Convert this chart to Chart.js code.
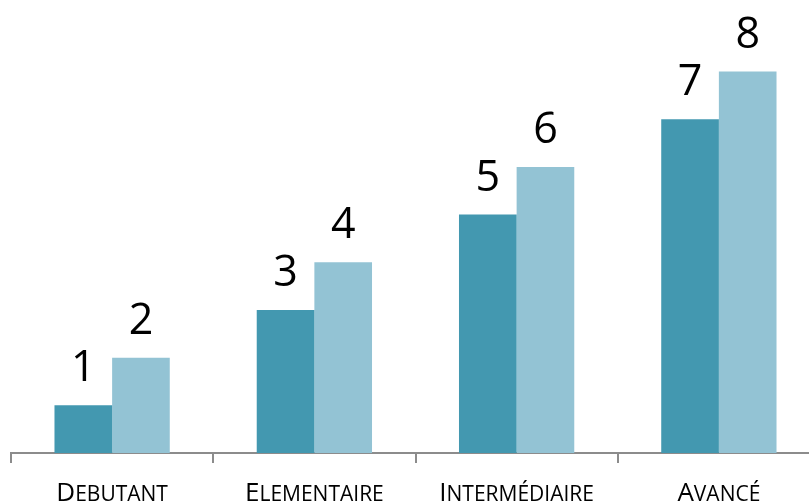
<!DOCTYPE html>
<html>
<head>
<meta charset="utf-8">
<script src="https://cdn.jsdelivr.net/npm/chart.js@4.4.1/dist/chart.umd.min.js"></script>
<style>
  html, body { margin: 0; padding: 0; background: #fff; overflow: hidden; }
  #wrap { width: 820px; height: 504px; }
</style>
</head>
<body>
<div id="wrap"><canvas id="chart"></canvas></div>
<script>
const levels = ["Debutant", "Elementaire", "Intermédiaire", "Avancé"];
const seriesA = [1, 3, 5, 7];
const seriesB = [2, 4, 6, 8];

const darkTeal = "rgb(67,152,176)";
const lightTeal = "rgb(147,195,212)";
const axisGrey = "#8c8c8c";

// numbers sitting above each bar
const valueLabels = {
  id: "valueLabels",
  afterDatasetsDraw(chart) {
    const ctx = chart.ctx;
    ctx.save();
    ctx.font = "43px 'Open Sans'";
    ctx.fillStyle = "#000";
    ctx.textAlign = "center";
    ctx.textBaseline = "alphabetic";
    chart.data.datasets.forEach((ds, di) => {
      chart.getDatasetMeta(di).data.forEach((bar, i) => {
        ctx.fillText(String(ds.data[i]), bar.x, bar.y - 24);
      });
    });
    ctx.restore();
  }
};

// small caps category names under the axis
const smallCapsLabels = {
  id: "smallCapsLabels",
  afterDraw(chart) {
    const ctx = chart.ctx;
    const xs = chart.scales.x;
    const big = "26px 'Open Sans'";
    const small = "21px 'Open Sans'";
    ctx.save();
    ctx.fillStyle = "#000";
    ctx.textBaseline = "alphabetic";
    ctx.textAlign = "left";
    levels.forEach((name, i) => {
      const up = name.toUpperCase();
      const first = up[0], rest = up.slice(1);
      ctx.font = big;
      const w1 = ctx.measureText(first).width;
      ctx.font = small;
      const w2 = ctx.measureText(rest).width;
      let x = xs.getPixelForValue(i) - (w1 + w2) / 2;
      ctx.font = big;
      ctx.fillText(first, x, 501);
      ctx.font = small;
      ctx.fillText(rest, x + w1, 501);
    });
    ctx.restore();
  }
};

new Chart(document.getElementById("chart"), {
  type: "bar",
  data: {
    labels: levels,
    datasets: [
      {
        label: "A",
        data: seriesA,
        backgroundColor: darkTeal,
        borderWidth: 0,
        categoryPercentage: 0.57,
        barPercentage: 1
      },
      {
        label: "B",
        data: seriesB,
        backgroundColor: lightTeal,
        borderWidth: 0,
        categoryPercentage: 0.57,
        barPercentage: 1
      }
    ]
  },
  options: {
    responsive: true,
    maintainAspectRatio: false,
    animation: false,
    layout: { padding: { left: 11, right: 0, top: 0, bottom: 0 } },
    plugins: {
      legend: { display: false },
      tooltip: { enabled: false }
    },
    scales: {
      x: {
        grid: {
          offset: true,
          drawOnChartArea: false,
          drawTicks: true,
          tickLength: 10,
          color: axisGrey,
          lineWidth: 2
        },
        border: { display: true, color: axisGrey, width: 2 },
        ticks: { display: false },
        afterFit(scale) { scale.height = 51; }
      },
      y: {
        display: false,
        min: 0,
        max: 9.5
      }
    }
  },
  plugins: [valueLabels, smallCapsLabels]
});
</script>
</body>
</html>
